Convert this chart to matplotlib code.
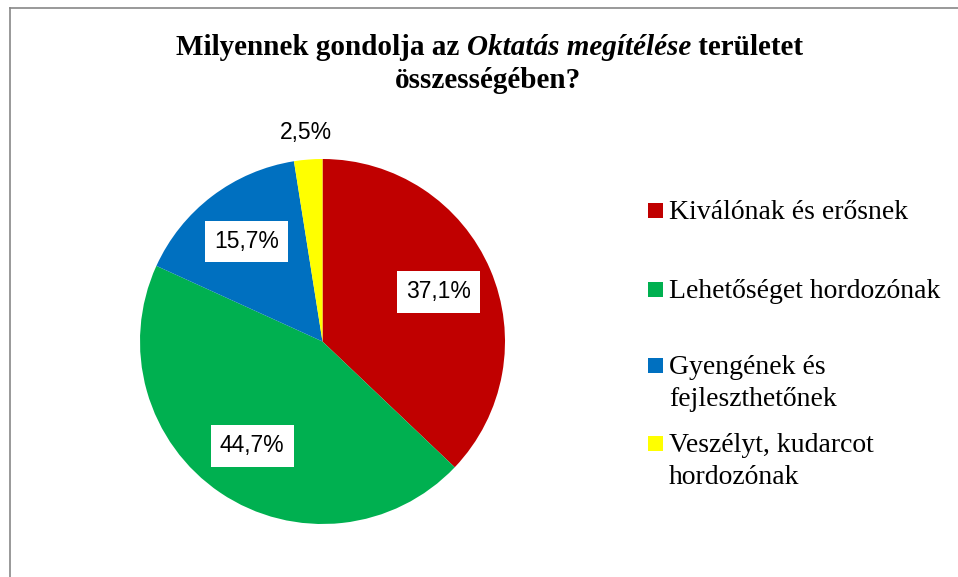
import matplotlib
matplotlib.use("Agg")
import matplotlib.pyplot as plt
import numpy as np
from matplotlib.patches import Rectangle
from matplotlib.lines import Line2D

W, H = 958, 577

categories = ["Kiválónak és erősnek",
              "Lehetőséget hordozónak",
              "Gyengének és\nfejleszthetőnek",
              "Veszélyt, kudarcot\nhordozónak"]
values = [37.1, 44.7, 15.7, 2.5]
colors = ["#C00000", "#00B050", "#0070C0", "#FFFF00"]
title_parts = [("Milyennek gondolja az ", "normal"),
               ("Oktatás megítélése", "italic"),
               (" területet", "normal")]
title_line2 = "összességében?"

fig = plt.figure(figsize=(W / 100, H / 100), dpi=100)
fig.patch.set_facecolor("white")


def fx(px):
    return px / W


def fy(py):
    return 1 - py / H


# chart area border (only left and top visible)
fig.add_artist(Line2D([fx(9.5), fx(9.5)], [fy(7.5), 0], color="#878787", lw=1.2))
fig.add_artist(Line2D([fx(9.5), 1], [fy(7.5), fy(7.5)], color="#878787", lw=1.2))

############################# pie ######################################
cx, cy, r = 322.5, 341.5, 182.5
ax = fig.add_axes([fx(cx - r), fy(cy + r), 2 * r / W, 2 * r / H])
wedges, _ = ax.pie(values, colors=colors, startangle=90, counterclock=False,
                   radius=1, wedgeprops=dict(linewidth=0))
ax.set_xlim(-1, 1)
ax.set_ylim(-1, 1)
ax.axis("off")

lbl_font = ["Liberation Sans", "DejaVu Sans"]
for w, v in zip(wedges, values):
    ang = np.deg2rad((w.theta1 + w.theta2) / 2)
    txt = f"{v:.1f}%".replace(".", ",")
    if v < 5:
        d = 1.15
        ax.text(d * np.cos(ang), d * np.sin(ang), txt, ha="center", va="center",
                fontsize=16.5, family=lbl_font, clip_on=False)
    else:
        d = 0.69
        ax.text(d * np.cos(ang), d * np.sin(ang), txt, ha="center", va="center",
                fontsize=16.5, family=lbl_font,
                bbox=dict(boxstyle="square,pad=0.4", fc="white", ec="none"))

############################# legend ######################################
serif = ["Liberation Serif", "DejaVu Serif"]
leg_baselines = [219, 298, 374, 452]
line_gap = 32
for lab, col, base in zip(categories, colors, leg_baselines):
    fig.add_artist(Rectangle((fx(648), fy(base - 1)), 15 / W, 15 / H,
                             transform=fig.transFigure, fc=col, ec="none"))
    for i, line in enumerate(lab.split("\n")):
        fig.text(fx(669), fy(base + i * line_gap), line, family=serif,
                 fontsize=20, va="baseline", ha="left")

############################# title ######################################
renderer = fig.canvas.get_renderer()
tsize = 21
pieces = []
for s, style in title_parts:
    t = fig.text(0, fy(55), s, family=serif, fontsize=tsize, weight="bold",
                 style=style, va="baseline", ha="left")
    pieces.append(t)
widths = [t.get_window_extent(renderer).width for t in pieces]
x = 489.5 - sum(widths) / 2
for t, wd in zip(pieces, widths):
    t.set_x(fx(x))
    x += wd
fig.text(fx(488), fy(88), title_line2, family=serif, fontsize=tsize,
         weight="bold", va="baseline", ha="center")

fig.savefig("out.png", dpi=100)
